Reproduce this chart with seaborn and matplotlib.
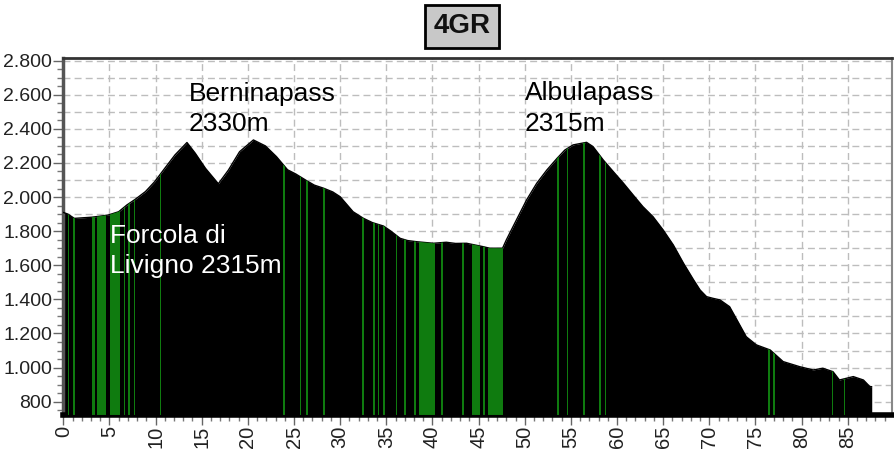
import numpy as np
import matplotlib
matplotlib.use("Agg")
import matplotlib.pyplot as plt
from matplotlib.ticker import MultipleLocator, FuncFormatter
import seaborn as sns

# elevation profile (km, metres)
km = [0, 0.5, 1.2, 2.0, 3.1, 4.0, 4.9, 6.0, 6.9, 7.8, 8.9, 9.9, 11.0, 12.1,
      13.4, 14.3, 15.4, 16.8, 17.9, 19.1, 20.6, 21.9, 23.1, 24.3, 25.2, 26.4,
      27.2, 28.2, 29.2, 30.0, 31.4, 32.5, 33.5, 34.7, 35.5, 36.5, 37.3, 38.3,
      40.1, 41.5, 42.5, 43.7, 45.5, 46.2, 47.6, 48.0, 49.1, 50.2, 51.3, 52.4,
      53.5, 54.35, 55.25, 56.7, 57.4, 58.5, 59.6, 60.7, 61.75, 62.8, 63.9,
      65.0, 66.1, 67.2, 68.3, 69.0, 69.7, 70.4, 71.15, 72.2, 73.0, 74.0, 75.1,
      76.6, 78.0, 79.8, 81.25, 82.3, 83.4, 84.1, 85.6, 86.7, 87.4, 87.6]
elev = [1910, 1900, 1875, 1878, 1882, 1888, 1895, 1914, 1954, 1987, 2032, 2090,
        2169, 2247, 2320, 2257, 2169, 2078, 2159, 2266, 2335, 2300, 2237, 2160,
        2135, 2095, 2070, 2052, 2030, 2002, 1914, 1876, 1850, 1830, 1800, 1758,
        1745, 1738, 1729, 1735, 1728, 1729, 1709, 1700, 1700, 1748, 1866, 1983,
        2081, 2159, 2227, 2276, 2306, 2321, 2296, 2218, 2149, 2081, 2012, 1944,
        1885, 1807, 1719, 1612, 1514, 1455, 1416, 1406, 1397, 1357, 1279, 1181,
        1133, 1103, 1035, 1005, 986, 996, 976, 927, 947, 927, 888, 888]

# green road segments (start km, width km)
green_start = [0.5, 1.05, 3.07, 3.7, 5.06, 6.55, 7.05, 7.65, 10.45, 23.85,
               25.6, 26.35, 28.15, 32.4, 33.6, 34.05, 34.65, 36.0, 36.95, 38.0,
               38.5, 40.95, 43.2, 44.25, 45.5, 46.05, 53.5, 54.55, 56.35, 58.1,
               58.65, 76.4, 76.95, 83.25, 84.55]
green_width = [0.17, 0.17, 0.33, 0.9, 1.08, 0.17, 0.17, 0.17, 0.17, 0.17,
               0.17, 0.17, 0.2, 0.17, 0.17, 0.17, 0.17, 0.17, 0.17, 0.17,
               1.8, 0.17, 0.17, 0.9, 0.17, 1.55, 0.17, 0.17, 0.17, 0.17,
               0.17, 0.17, 0.17, 0.17, 0.17]

sns.set_style("white")
plt.rcParams['font.family'] = ['Liberation Sans', 'DejaVu Sans']

fig = plt.figure(figsize=(8.94, 4.54), dpi=100)
ax = fig.add_axes([0.0708, 0.086, 0.927, 0.786])

ymin, ymax = 722, 2815
ax.set_xlim(0, 89.8)
ax.set_ylim(ymin, ymax)

# grid
for y in np.arange(800, 2900, 100):
    ax.axhline(y, color='#bdbdbd', lw=1, ls=(0, (5, 3)), zorder=0)
for x in np.arange(5, 90, 5):
    ax.axvline(x, color='#bdbdbd', lw=1, ls=(0, (5, 3)), zorder=0)

poly = ax.fill_between(km, elev, ymin, color='black', lw=0, zorder=2)
sns.lineplot(x=km, y=elev, color='black', lw=1, ax=ax, zorder=3)

bars = ax.bar(green_start, ymax - ymin, width=green_width, bottom=ymin,
              align='edge', color='#0f7b0f', lw=0, zorder=4)
clip = poly.get_paths()[0]
for b in bars:
    b.set_clip_path(clip, transform=ax.transData)

# labels
tk = dict(fontsize=19, ha='left', va='baseline', zorder=6)
ax.text(13.6, 2563, "Berninapass", color='black', **tk)
ax.text(13.6, 2385, "2330m", color='black', **tk)
ax.text(50.0, 2567, "Albulapass", color='black', **tk)
ax.text(50.0, 2390, "2315m", color='black', **tk)
ax.text(5.1, 1729, "Forcola di", color='white', **tk)
ax.text(5.1, 1557, "Livigno 2315m", color='white', **tk)

# ticks
ax.xaxis.set_major_locator(MultipleLocator(5))
ax.xaxis.set_minor_locator(MultipleLocator(1))
ax.yaxis.set_major_locator(MultipleLocator(200))
ax.yaxis.set_minor_locator(MultipleLocator(50))
ax.yaxis.set_major_formatter(FuncFormatter(lambda v, p: f"{int(v):,}".replace(",", ".")))
ax.set_xticks(np.arange(0, 90, 5))
ax.tick_params(axis='both', which='major', length=7, width=1, color='#666',
               labelsize=14, labelcolor='#222', pad=1, direction='out')
ax.tick_params(axis='both', which='minor', length=4, width=1, color='#777',
               direction='out')
ax.tick_params(axis='x', which='major', labelrotation=90, labelsize=14.5)
ax.tick_params(left=True, bottom=True, which='both')

ax.spines['left'].set_color('#555')
ax.spines['left'].set_linewidth(2.5)
ax.spines['top'].set_color('#333')
ax.spines['top'].set_linewidth(2)
ax.spines['right'].set_color('#888')
ax.spines['right'].set_linewidth(1.5)
ax.spines['bottom'].set_color('black')
ax.spines['bottom'].set_linewidth(4)

fig.text(0.517, 0.942, "4GR", ha='center', va='center', fontsize=20,
         fontweight='bold', color='#111',
         bbox=dict(boxstyle='square,pad=0.3', fc='#c8c8c8', ec='black', lw=2))

fig.savefig("out.png", dpi=100)
